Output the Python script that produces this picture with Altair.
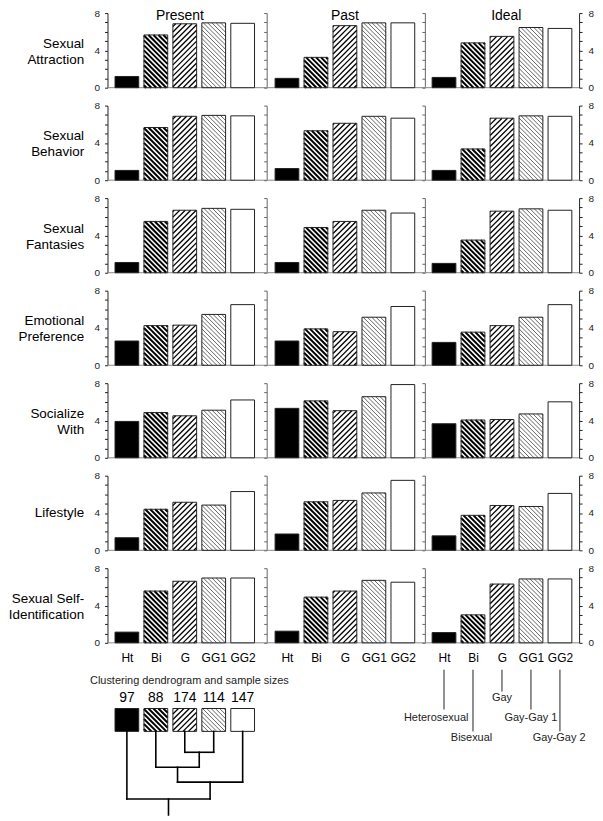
import altair as alt
import pandas as pd

# ---------------- data ----------------
GROUPS = ["Ht", "Bi", "G", "GG1", "GG2"]
GROUP_NAMES = ["Heterosexual", "Bisexual", "Gay", "Gay-Gay 1", "Gay-Gay 2"]
SAMPLE_SIZES = [97, 88, 174, 114, 147]
TIMES = ["Present", "Past", "Ideal"]
ROW_LABELS = [
    ["Sexual", "Attraction"],
    ["Sexual", "Behavior"],
    ["Sexual", "Fantasies"],
    ["Emotional", "Preference"],
    ["Socialize", "With"],
    ["Lifestyle"],
    ["Sexual Self-", "Identification"],
]
# each: [Present, Past, Ideal] -> values for Ht, Bi, G, GG1, GG2
ATTRACTION = [[1.2, 5.65, 6.85, 6.95, 6.9], [1.0, 3.25, 6.65, 6.95, 6.95], [1.1, 4.8, 5.5, 6.45, 6.35]]
BEHAVIOR = [[1.05, 5.65, 6.85, 6.95, 6.9], [1.25, 5.3, 6.1, 6.85, 6.65], [1.05, 3.35, 6.65, 6.9, 6.85]]
FANTASIES = [[1.1, 5.5, 6.7, 6.9, 6.8], [1.1, 4.85, 5.5, 6.7, 6.4], [1.0, 3.5, 6.6, 6.85, 6.7]]
EMOTIONAL = [[2.6, 4.25, 4.3, 5.45, 6.5], [2.6, 3.9, 3.6, 5.15, 6.3], [2.45, 3.55, 4.25, 5.15, 6.5]]
SOCIALIZE = [[3.9, 4.85, 4.5, 5.1, 6.2], [5.3, 6.1, 5.05, 6.55, 7.85], [3.65, 4.05, 4.1, 4.7, 6.0]]
LIFESTYLE = [[1.35, 4.4, 5.15, 4.85, 6.3], [1.75, 5.2, 5.35, 6.15, 7.5], [1.55, 3.75, 4.8, 4.7, 6.1]]
SELF_ID = [[1.15, 5.55, 6.6, 6.95, 6.95], [1.25, 4.9, 5.55, 6.7, 6.5], [1.1, 3.0, 6.3, 6.85, 6.85]]
ROWS = [ATTRACTION, BEHAVIOR, FANTASIES, EMOTIONAL, SOCIALIZE, LIFESTYLE, SELF_ID]

# dendrogram: (cluster a, cluster b, merge level) ; leaves 0..4, merged clusters 5..
MERGES = [(2, 3, 92), (1, 5, 107), (6, 4, 122), (0, 7, 139)]

# ---------------- layout / style ----------------
PANEL_W = [160, 159, 155]
X_DOMAINS = [[-0.67, 4.83], [-0.70, 4.76], [-0.66, 4.66]]
TITLE_X = [1.83, 2.0, 2.15]
PANEL_H = 75
ROW_GAP = 18
HALF = 0.41
BOTTOM_H = 160
FILLS = ["#000000", "#ffffff", "#ffffff", "#ffffff", "#ffffff"]
HATCH = {  # kind, period px, stroke width, colour
    "Bi": ("back", 5.0, 2.0, "#000000"),
    "G": ("fwd", 5.5, 1.3, "#000000"),
    "GG1": ("back", 4.3, 0.9, "#555555"),
}
FONT = "Liberation Sans"


def diag(wpx, hpx, kind, period):
    segs = []
    if kind == "back":
        c = period / 2
        while c < wpx + hpx:
            xa, xb = max(0.0, c - hpx), min(wpx, c)
            if xb > xa:
                segs.append((xa, c - xa, xb, c - xb))
            c += period
    else:
        d = -wpx + period / 2
        while d < hpx:
            xa, xb = max(0.0, -d), min(wpx, hpx - d)
            if xb > xa:
                segs.append((xa, xa + d, xb, xb + d))
            d += period
    return segs


def hatch_layers(rects, sx, sy, ysign, xs, ys):
    layers = []
    for name, (kind, period, sw, col) in HATCH.items():
        rows = []
        for g, x0, x1, ybase, hdata in rects:
            if g != name:
                continue
            for xa, ya, xb, yb in diag((x1 - x0) * sx, hdata * sy, kind, period):
                rows.append({"x": x0 + xa / sx, "x2": x0 + xb / sx,
                             "y": ybase + ysign * ya / sy, "y2": ybase + ysign * yb / sy})
        if not rows:
            continue
        layers.append(
            alt.Chart(pd.DataFrame(rows)).mark_rule(color=col, strokeWidth=sw, strokeCap="butt").encode(
                x=alt.X("x:Q", scale=xs, axis=None), x2="x2:Q",
                y=alt.Y("y:Q", scale=ys, axis=None), y2="y2:Q")
        )
    return layers


LABEL_EXPR = "datum.value % 4 == 0 ? datum.label : ''"
X_LABEL_EXPR = "[" + ",".join("'%s'" % g for g in GROUPS) + "][datum.value]"


def panel(r, c):
    vals = ROWS[r][c]
    xs = alt.Scale(domain=X_DOMAINS[c], nice=False, zero=False)
    ys = alt.Scale(domain=[0, 8], nice=False, zero=True)
    sx = PANEL_W[c] / (X_DOMAINS[c][1] - X_DOMAINS[c][0])
    sy = PANEL_H / 8
    df = pd.DataFrame({"grp": GROUPS, "x0": [i - HALF for i in range(5)],
                       "x1": [i + HALF for i in range(5)], "v": vals})
    last = r == len(ROWS) - 1
    if last:
        xaxis = alt.Axis(values=list(range(5)), labelExpr=X_LABEL_EXPR, domain=False, ticks=False,
                         grid=False, title=None, labelFontSize=12, labelColor="#000",
                         labelPadding=10, labelFont=FONT)
    else:
        xaxis = None
    common = dict(values=list(range(9)), tickSize=3, grid=False, labelExpr=LABEL_EXPR,
                  labelFontSize=10, labelColor="#222", labelFont=FONT)
    if c == 0:
        nlines = len(ROW_LABELS[r])
        yaxis = alt.Axis(**common, labelPadding=5, domainColor="#222", tickColor="#222",
                         title=ROW_LABELS[r], titleAngle=0, titleAlign="right", titleBaseline="middle",
                         titleX=-24, titleY=PANEL_H / 2 - 7 * (nlines - 1), titleFontSize=13.5,
                         titleFontWeight="normal", titleLineHeight=16, titleColor="#000", titleFont=FONT)
    else:
        yaxis = alt.Axis(**common, labels=False, domainColor="#666", tickColor="#666", title=None)

    base_rule = alt.Chart(pd.DataFrame({"y": [0]})).mark_rule(color="#888", strokeWidth=1).encode(
        y=alt.Y("y:Q", scale=ys, axis=None))
    fill = alt.Chart(df).mark_rect().encode(
        x=alt.X("x0:Q", scale=xs, axis=xaxis), x2="x1:Q",
        y=alt.Y("v:Q", scale=ys, axis=yaxis), y2=alt.datum(0),
        color=alt.Color("grp:N", scale=alt.Scale(domain=GROUPS, range=FILLS), legend=None))
    rects = [(g, i - HALF, i + HALF, 0, v) for i, (g, v) in enumerate(zip(GROUPS, vals))]
    hatches = hatch_layers(rects, sx, sy, 1, xs, ys)
    if c == 2:
        raxis = alt.Axis(**common, orient="right", labelPadding=6, domainColor="#222",
                         tickColor="#222", title=None)
    else:
        raxis = None
    outline = alt.Chart(df).mark_rect(fillOpacity=0, stroke="#222", strokeWidth=1).encode(
        x=alt.X("x0:Q", scale=xs, axis=None), x2="x1:Q",
        y=alt.Y("v:Q", scale=ys, axis=raxis), y2=alt.datum(0))
    layers = [base_rule, fill] + hatches + [outline]
    if r == 0:
        t = alt.Chart(pd.DataFrame({"t": [TIMES[c]], "x": [TITLE_X[c]], "y": [7.68]})).mark_text(
            fontSize=14, baseline="middle", font=FONT, color="#000").encode(
            x=alt.X("x:Q", scale=xs, axis=None), y=alt.Y("y:Q", scale=ys, axis=None), text="t:N")
        layers.append(t)
    return alt.layer(*layers).properties(width=PANEL_W[c], height=PANEL_H).resolve_axis(
        x="independent", y="independent")


def bottom_left():
    xs = alt.Scale(domain=X_DOMAINS[0], nice=False, zero=False)
    ys = alt.Scale(domain=[0, BOTTOM_H], nice=False, zero=False, reverse=True)
    sx = PANEL_W[0] / (X_DOMAINS[0][1] - X_DOMAINS[0][0])
    cap = alt.Chart(pd.DataFrame({"t": ["Clustering dendrogram and sample sizes"], "x": [2.16], "y": [20]})
                    ).mark_text(fontSize=11, font=FONT, color="#222", baseline="middle").encode(
        x=alt.X("x:Q", scale=xs, axis=None), y=alt.Y("y:Q", scale=ys, axis=None), text="t:N")
    nums = alt.Chart(pd.DataFrame({"t": [str(n) for n in SAMPLE_SIZES], "x": list(range(5)), "y": [37] * 5})
                     ).mark_text(fontSize=14, font=FONT, color="#000", baseline="middle").encode(
        x=alt.X("x:Q", scale=xs, axis=None), y=alt.Y("y:Q", scale=ys, axis=None), text="t:N")
    sq = pd.DataFrame({"grp": GROUPS, "x0": [i - HALF for i in range(5)],
                       "x1": [i + HALF for i in range(5)], "y0": [48] * 5, "y1": [71] * 5})
    fill = alt.Chart(sq).mark_rect().encode(
        x=alt.X("x0:Q", scale=xs, axis=None), x2="x1:Q",
        y=alt.Y("y0:Q", scale=ys, axis=None), y2="y1:Q",
        color=alt.Color("grp:N", scale=alt.Scale(domain=GROUPS, range=FILLS), legend=None))
    rects = [(g, i - HALF, i + HALF, 71, 23) for i, g in enumerate(GROUPS)]
    hatches = hatch_layers(rects, sx, 1, -1, xs, ys)
    outline = alt.Chart(sq).mark_rect(fillOpacity=0, stroke="#222", strokeWidth=1).encode(
        x=alt.X("x0:Q", scale=xs, axis=None), x2="x1:Q",
        y=alt.Y("y0:Q", scale=ys, axis=None), y2="y1:Q")
    # dendrogram segments
    pos = {i: float(i) for i in range(5)}
    top = {i: 71.0 for i in range(5)}
    segs = []
    for k, (a, b, h) in enumerate(MERGES):
        segs.append((pos[a], top[a], pos[a], h))
        segs.append((pos[b], top[b], pos[b], h))
        segs.append((pos[a], h, pos[b], h))
        nid = 5 + k
        pos[nid] = (pos[a] + pos[b]) / 2
        top[nid] = h
    root = 5 + len(MERGES) - 1
    segs.append((pos[root], top[root], pos[root], 155))
    dd = pd.DataFrame(segs, columns=["x", "y", "x2", "y2"])
    dendro = alt.Chart(dd).mark_rule(color="#000", strokeWidth=1.6, strokeCap="square").encode(
        x=alt.X("x:Q", scale=xs, axis=None), x2="x2:Q",
        y=alt.Y("y:Q", scale=ys, axis=None), y2="y2:Q")
    return alt.layer(cap, nums, fill, *hatches, outline, dendro).properties(
        width=PANEL_W[0], height=BOTTOM_H)


def bottom_middle():
    return alt.Chart(pd.DataFrame({"x": [0], "y": [0]})).mark_point(opacity=0).encode(
        x=alt.X("x:Q", axis=None), y=alt.Y("y:Q", axis=None)).properties(
        width=PANEL_W[1], height=BOTTOM_H)


LEADER_TOP = 9
LEADER_ENDS = [49, 71, 31, 49, 71]
LABEL_Y = [58, 78, 37, 58, 78]
LABEL_DX = [-0.27, -0.05, 0.0, 0.0, -0.03]


def bottom_right():
    xs = alt.Scale(domain=X_DOMAINS[2], nice=False, zero=False)
    ys = alt.Scale(domain=[0, BOTTOM_H], nice=False, zero=False, reverse=True)
    lead = pd.DataFrame({"x": list(range(5)), "y": [LEADER_TOP] * 5, "y2": LEADER_ENDS})
    lines = alt.Chart(lead).mark_rule(color="#222", strokeWidth=1).encode(
        x=alt.X("x:Q", scale=xs, axis=None),
        y=alt.Y("y:Q", scale=ys, axis=None), y2="y2:Q")
    labs = pd.DataFrame({"t": GROUP_NAMES, "x": [i + d for i, d in enumerate(LABEL_DX)], "y": LABEL_Y})
    text = alt.Chart(labs).mark_text(fontSize=11, font=FONT, color="#222", baseline="middle").encode(
        x=alt.X("x:Q", scale=xs, axis=None), y=alt.Y("y:Q", scale=ys, axis=None), text="t:N")
    return alt.layer(lines, text).properties(width=PANEL_W[2], height=BOTTOM_H)


cells = [panel(r, c) for r in range(len(ROWS)) for c in range(3)]
cells += [bottom_left(), bottom_middle(), bottom_right()]

chart = alt.concat(*cells, columns=3, spacing={"row": ROW_GAP, "column": 0},
                   bounds="flush", align="each").properties(
    padding={"left": -1, "top": -3, "right": 0, "bottom": 0}
).configure(font=FONT).configure_view(stroke="transparent").configure_axis(grid=False)

chart.save("out.html", embed_options={"renderer": "svg", "actions": False})
